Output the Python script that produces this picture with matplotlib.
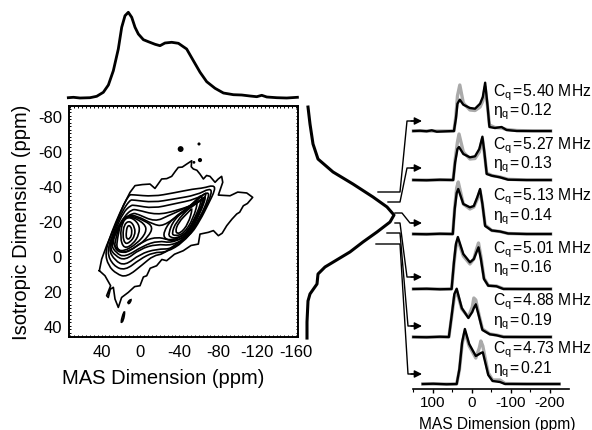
import matplotlib
matplotlib.use('Agg')
import matplotlib.pyplot as plt
from matplotlib.patches import PathPatch
from matplotlib.path import Path
from matplotlib.ticker import MultipleLocator

plt.rcParams['font.family'] = ['Liberation Sans', 'DejaVu Sans']
plt.rcParams['mathtext.default'] = 'regular'

# contours of the 2D spectrum, (MAS ppm, isotropic ppm)
contour_outer = [(42.3, 8.4), (39.9, 1.8), (34.8, -5.9), (26.2, -17.3), (17.7, -28.7), (10.8, -36.3),
                 (5.6, -40.2), (-2, -40.8), (-9.8, -41.1), (-14.9, -38.6), (-18, -41), (-21.8, -44), (-27, -44.2),
                 (-32.1, -45.5), (-36, -48.5), (-38.9, -50.6), (-43, -50.8), (-47.5, -52.5), (-52.7, -54.4),
                 (-52.2, -51), (-54.4, -49.7), (-58, -49), (-61.2, -46.8), (-64.7, -44), (-68, -46), (-71.5, -45.5),
                 (-76.7, -42.1), (-80, -44), (-83.5, -45.5), (-84.6, -42.1), (-80.1, -34.8), (-92.1, -34.4), (-100, -36.5),
                 (-109.3, -36), (-115.4, -33.5), (-110, -30), (-105.8, -28.7), (-102, -25), (-99, -24), (-94, -21),
                 (-88.7, -17.3), (-84, -13), (-80.1, -11.6), (-75, -14.5), (-69.8, -13.5), (-61.2, -12.5), (-59.5, -6.8),
                 (-52, -6), (-44, -3), (-35, -1), (-26.9, 2.7), (-22, 2), (-16.6, 5.6), (-10, 7), (-6.4, 11.3), (-3, 12),
                 (0.5, 17), (6, 17.5), (12.5, 20.8), (19.4, 23.7), (22.8, 29.4), (26.2, 24.6), (27.9, 17.9), (31, 19),
                 (33.1, 23.7), (34.8, 22.7), (30.7, 17), (36.5, 11.3)]
contour_2 = [(36.5, -2.1), (29.7, -13.5), (21.1, -24.9), (12, -35), (8, -35), (-13.2, -34), (-33.8, -36), (-54.4, -38.3),
             (-64.7, -38.8), (-75, -40.5), (-77, -38), (-69.8, -29.7), (-61.2, -20.2), (-51, -11.6), (-33.8, -5.9),
             (-23.5, -1.1), (-13.2, -0.2), (-2.9, 4.6), (14.2, 12.2), (24.5, 10.3), (33.1, 5.6)]
contour_3 = [(34.8, -2.1), (27.9, -13.5), (19.4, -24.9), (11, -32), (7, -32), (-13.2, -30.6), (-33.8, -32.5), (-57.8, -34.8),
             (-71.5, -38.8), (-73.5, -36), (-66.4, -26.8), (-56.1, -16.3), (-44.1, -7.8), (-26.9, -2.1), (-13.2, -2.1),
             (0.5, 1.8), (15.9, 8.4), (27.9, 5.6)]
contour_4 = [(33.1, -3.9), (26.2, -14.4), (17.7, -24.9), (10, -29), (6, -29), (-13.2, -27.2), (-33.8, -29.7), (-57.8, -32.5),
             (-70, -37), (-70, -33), (-61.2, -22), (-49.2, -11.6), (-33.8, -4), (-16.6, -4), (0.5, -1.1),
             (15.9, 5.6), (26.2, 2.7)]
contour_5 = [(32, -4.9), (24.5, -15.4), (16, -23), (9, -26.5), (4, -26.5), (-16.6, -23.4), (-37.2, -25.9), (-61.2, -30.6),
             (-68.5, -35.5), (-61.2, -24), (-47.5, -10.6), (-32.1, -5.9), (-16.6, -6.8), (0.5, -4), (15.9, 2.7), (26.2, -0.2)]
contour_6 = [(30.7, -6.8), (22.8, -16.3), (14.9, -22), (8, -24.5), (3, -24), (-14.9, -19.5), (-28.6, -23), (-44.1, -26.8),
             (-61.2, -31.6), (-67.4, -34.5), (-60.5, -24.9), (-47.5, -11.6), (-32.1, -7.4), (-18.4, -8.7), (-2.9, -5.9),
             (15.9, 0.8), (25.2, -1.7)]
contour_7 = [(29.3, -8.1), (21.8, -17.3), (13.5, -23.5), (3.9, -23), (-13.2, -18), (-23.5, -17), (-40.7, -24),
             (-57.8, -29.7), (-66.4, -34.5), (-57.8, -22), (-45.8, -11.6), (-30.4, -8.7), (-18.4, -11), (-2.9, -8.7),
             (14.9, -1.1), (23.8, -3.6)]
left_9 = [(26.6, -8), (20, -20), (11.5, -23.5), (-5, -20), (-13, -16.5), (-8, -11), (3, -5.5), (18, -1.5), (26, -3.5)]
left_10 = [(23.9, -9.7), (19.4, -21.1), (10.8, -23), (-4.6, -18.5), (-6.3, -13.5), (4, -6.8), (17.7, -2.5), (24.6, -4)]
left_11 = [(21.1, -10.6), (18.4, -20.2), (10.8, -22.6), (1.2, -18.3), (1.2, -12.5), (7.4, -6.8), (17, -4)]
left_12 = [(18.4, -11.6), (16.7, -18.3), (10.8, -20.2), (5.7, -16.4), (5.7, -11.6), (10.8, -7.8), (16, -6.8)]
left_13 = [(14.9, -12.5), (13.6, -17.3), (10.1, -17.3), (8.4, -13.5), (10.8, -9.7), (14.3, -9.7)]
right_8 = [(-23.5, -13.5), (-32, -21.1), (-54.3, -29.7), (-68.1, -37), (-66, -33), (-61.2, -24.9), (-50, -12), (-36, -8.5), (-25, -9.5)]
right_9 = [(-28.6, -12.6), (-34.4, -21), (-52, -29), (-64, -36), (-62, -30), (-57, -23), (-48, -13.5), (-37.2, -10), (-30.3, -10.7)]
right_10 = [(-32, -12.6), (-36.5, -19.5), (-50.9, -27.8), (-60, -33), (-54.3, -21.1), (-44.1, -12.5), (-35.5, -11.5)]
right_11 = [(-35.5, -13.5), (-38.9, -19.2), (-49.2, -25), (-54, -28), (-49.2, -18.3), (-40.6, -12.6)]
island_a = [(13.5, 26.5), (9.5, 24.5), (10, 26), (12, 27.5)]
island_b = [(20.4, 38.5), (18, 33), (15.9, 31.3), (17.5, 37)]
blobs_x = [-41.3, -60.2, -61.2, -55]
blobs_y = [-61.1, -64, -54.8, -53.5]
blobs_size = [18, 5, 9, 4]

# projections
top_x = [74.2, 69, 62.2, 51.9, 45, 38.2, 33, 27.9, 22.8, 19.3, 15.9, 12.5, 9, 5.6, 2.2, -3, -8.1, -15, -20.1, -25.2,
         -32.1, -39, -47.5, -54.4, -61.3, -68.1, -76.7, -85.3, -95.6, -104.1, -112.7, -119.6, -124.7, -129.9, -140.2,
         -150.4, -161.4]
top_y = [0.3, 0.7, 0, 0.3, 1.7, 5.7, 13, 27.3, 49, 70.7, 82.3, 85.7, 80.7, 70.7, 64, 58.3, 56.3, 53.7, 52.3, 55, 55.7,
         54.7, 49, 37.3, 25.7, 16.3, 9.7, 5, 3.3, 3, 2, 1.3, 2.7, 1, 0.3, 0, 0.7]
side_x = [3, 5, 8, 13, 28, 48, 68, 82, 89, 85, 72, 58, 45, 20, 13, 12, 5, 3, 2, 2]
side_y = [-85.1, -75.4, -64, -55.4, -48, -41.1, -33.7, -28, -23.4, -19.4, -13.7, -8, -2.3, 6.3, 10.3, 16, 21.7, 25.7, 37.7, 46.9]

# slices, top to bottom
cq_labels = ['5.40', '5.27', '5.13', '5.01', '4.88', '4.73']
eta_labels = ['0.12', '0.13', '0.14', '0.16', '0.19', '0.21']
slice_offset = [258, 209, 155, 100, 52, 5]
x_1 = [150, 133, 116, 103, 90, 65, 46, 41, 37, 31, 22, 5, -8, -21, -28, -34, -40, -45, -59, -76, -89, -115, -157, -202]
exp_1 = [0, 0.3, -0.3, 0.7, -0.7, -0.3, 0, 12.3, 27.3, 31.3, 26.3, 23, 22.3, 27.3, 34, 48.3, 25.7, 4, 3, 4, 1, 0, 0, 0]
sim_1 = [0, 0, 0, 0, 0, 0, 0, 15, 35, 46, 28, 21, 20.5, 24, 30, 44, 25, 6, 3.5, 3, 1.5, 0.5, 0, 0]
x_2 = [150, 116, 82, 48, 43, 37, 33, 22, 5, -8, -19, -27, -32, -38, -51, -72, -93, -140, -202]
exp_2 = [0, -0.3, 0.3, 0, 17.7, 31, 33, 26, 22.7, 23.7, 31, 43.3, 27.7, 6, 4.3, 2.7, 0.3, 0, 0]
sim_2 = [0, 0, 0, 0, 20, 38, 46, 28, 21, 21.5, 28, 41, 27, 7, 4.5, 3, 0.7, 0, 0]
x_3 = [150, 116, 82, 49, 44, 39, 35, 22, 5, -5, -14, -21, -27, -34, -51, -72, -93, -140, -202]
exp_3 = [0, -0.3, 0.3, 0, 25, 41, 45, 30, 26.7, 28, 37, 45, 30, 8, 3.5, 2.5, 0.5, 0, 0]
sim_3 = [0, 0, 0, 0, 27, 46, 52, 30, 25, 27, 35, 43, 30, 9, 3.5, 2.5, 0.5, 0, 0]
x_4 = [150, 116, 82, 52, 46, 41, 36, 22, 5, -5, -12, -17, -23, -31, -42, -63, -81, -140, -202]
exp_4 = [0, 0.3, -0.3, 0, 27, 45, 52, 35, 26.7, 30, 37, 41.7, 30, 10, 3.3, 2.7, 0, 0, 0]
sim_4 = [0, 0, 0, 0, 25, 42, 49, 33, 25, 30, 40, 46, 33, 11, 3.5, 3, 0.3, 0, 0]
x_5 = [150, 116, 82, 59, 52, 45, 39, 26, 9, -1, -5, -10, -16, -27, -46, -63, -81, -140, -202]
exp_5 = [0, -0.3, 0.3, 0, 21, 43, 48.3, 29, 19, 25, 29, 32.7, 24, 7, 2.7, 1.7, 0, 0, 0]
sim_5 = [0, 0, 0, 0, 20, 40, 46, 28, 20, 30, 39, 37, 26, 8, 3, 2, 0.3, 0, 0]
x_6 = [126, 99, 65, 39, 32, 25, 18, 7, -10, -19, -23, -28, -34, -42, -53, -72, -85, -140, -224]
exp_6 = [0, 0.3, -0.3, 0, 15, 42, 55, 40, 28, 30, 31, 31.7, 22, 9, 3, 2, 0, 0, 0]
sim_6 = [0, 0, 0, 0, 14, 40, 52, 38, 26, 36, 43, 38, 26, 11, 4, 4, 0.5, 0, 0]

W, H = 592, 431


def axes_px(fig, left, top, right, bottom):
    """Add axes placed by pixel edges"""
    return fig.add_axes([left / W, 1 - bottom / H, (right - left) / W, (bottom - top) / H])


def rounded_path(points):
    """Closed path with the read points as quadratic control points"""
    n = len(points)
    mid = lambda a, b: ((a[0] + b[0]) / 2, (a[1] + b[1]) / 2)
    verts = [mid(points[-1], points[0])]
    codes = [Path.MOVETO]
    for i in range(n):
        verts += [points[i], mid(points[i], points[(i + 1) % n])]
        codes += [Path.CURVE3, Path.CURVE3]
    return Path(verts, codes)


fig = plt.figure(figsize=(W / 100, H / 100), dpi=100)

# main 2D plot
ax = axes_px(fig, 69, 107, 298, 338)
ax.set_xlim(73.5, -162)
ax.set_ylim(46.3, -85.7)
ax.plot([p[0] for p in contour_outer] + [contour_outer[0][0]], [p[1] for p in contour_outer] + [contour_outer[0][1]],
        color='black', lw=1.2, solid_joinstyle='round')
closed = [contour_2, contour_3, contour_4, contour_5, contour_6, contour_7, left_9, left_10, left_11, left_12,
          left_13, right_8, right_9, right_10, right_11, island_a, island_b]
for c in closed:
    ax.add_patch(PathPatch(rounded_path(c), facecolor='none', edgecolor='black', lw=1.2))
ax.scatter(blobs_x, blobs_y, s=blobs_size, color='black', linewidths=0)
ax.set_xticks([40, 0, -40, -80, -120, -160])
ax.set_xticklabels(['40', '0', '-40', '-80', '-120', '-160'])
ax.set_yticks([-80, -60, -40, -20, 0, 20, 40])
ax.set_yticklabels(['-80', '-60', '-40', '-20', '0', '20', '40'])
ax.xaxis.set_minor_locator(MultipleLocator(4))
ax.yaxis.set_minor_locator(MultipleLocator(2))
ax.tick_params(which='both', direction='in', top=True, right=True, length=1.5, width=0.7, labelsize=12, pad=5)
for s in ax.spines.values():
    s.set_linewidth(1.4)
ax.set_xlabel('MAS Dimension (ppm)', fontsize=14.5)
ax.xaxis.set_label_coords(0.41, -0.135)
ax.set_ylabel('Isotropic Dimension (ppm)', fontsize=14.5, labelpad=5)

# top projection
ax_top = axes_px(fig, 69, 9, 298, 99)
ax_top.set_xlim(73.5, -162)
ax_top.set_ylim(0, 90)
ax_top.plot(top_x, top_y, color='black', lw=2, clip_on=False)
ax_top.axis('off')

# side projection
ax_side = axes_px(fig, 305, 107, 400, 338)
ax_side.set_xlim(0, 95)
ax_side.set_ylim(46.3, -85.7)
ax_side.plot(side_x, side_y, color='black', lw=2.2, clip_on=False)
ax_side.axis('off')

# slices
ax_r = axes_px(fig, 413, 60, 569, 390)
ax_r.set_xlim(151, -249)
ax_r.set_ylim(0, 330)
all_slices = [(x_1, exp_1, sim_1), (x_2, exp_2, sim_2), (x_3, exp_3, sim_3),
              (x_4, exp_4, sim_4), (x_5, exp_5, sim_5), (x_6, exp_6, sim_6)]
for (xv, ev, sv), off in zip(all_slices, slice_offset):
    ax_r.plot(xv, [v + off for v in sv], color='#aaaaaa', lw=2.4, clip_on=False)
    ax_r.plot(xv, [v + off for v in ev], color='black', lw=1.7, clip_on=False)
for name in ['top', 'left', 'right']:
    ax_r.spines[name].set_visible(False)
ax_r.spines['bottom'].set_linewidth(1.2)
ax_r.patch.set_alpha(0)
ax_r.set_yticks([])
ax_r.set_xticks([100, 0, -100, -200])
ax_r.set_xticklabels(['100', '0', '-100', '-200'])
ax_r.xaxis.set_minor_locator(MultipleLocator(50))
ax_r.tick_params(which='major', direction='out', length=3, width=1, labelsize=11, pad=1.5)
ax_r.tick_params(which='minor', direction='out', length=2, width=0.8)
ax_r.set_xlabel('MAS Dimension (ppm)', fontsize=11.2)
ax_r.xaxis.set_label_coords(0.538, -0.083)

# labels and connectors drawn in pixel coordinates
ov = fig.add_axes([0, 0, 1, 1])
ov.set_xlim(0, W)
ov.set_ylim(H, 0)
ov.axis('off')
cq_y = [93, 146, 197, 250, 302, 350]
eta_y = [112, 165, 217, 269, 322, 370]
for cq, eta, yc, ye in zip(cq_labels, eta_labels, cq_y, eta_y):
    ov.text(493, yc, '$C_q$\u200a=\u200a' + cq + ' MHz', fontsize=11.3, va='center', ha='left')
    ov.text(493, ye, '$\\eta_q$\u200a=\u200a' + eta, fontsize=11.3, va='center', ha='left')
connectors = [[(378, 193), (400, 193), (407, 122), (414, 122)],
              [(388, 203), (400, 203), (407, 169), (414, 169)],
              [(395, 214), (402, 214), (410, 224), (414, 224)],
              [(395, 224), (400, 224), (407, 278), (414, 278)],
              [(387, 234), (400, 234), (408, 327), (414, 327)],
              [(376, 245), (400, 245), (408, 375), (414, 375)]]
for c in connectors:
    ov.plot([p[0] for p in c], [p[1] for p in c], color='black', lw=1)
    ov.annotate('', xy=(422, c[-1][1]), xytext=(411, c[-1][1]),
                arrowprops=dict(arrowstyle='-|>', color='black', lw=1, mutation_scale=11, shrinkA=0, shrinkB=0))

fig.savefig('out.png', dpi=100)
